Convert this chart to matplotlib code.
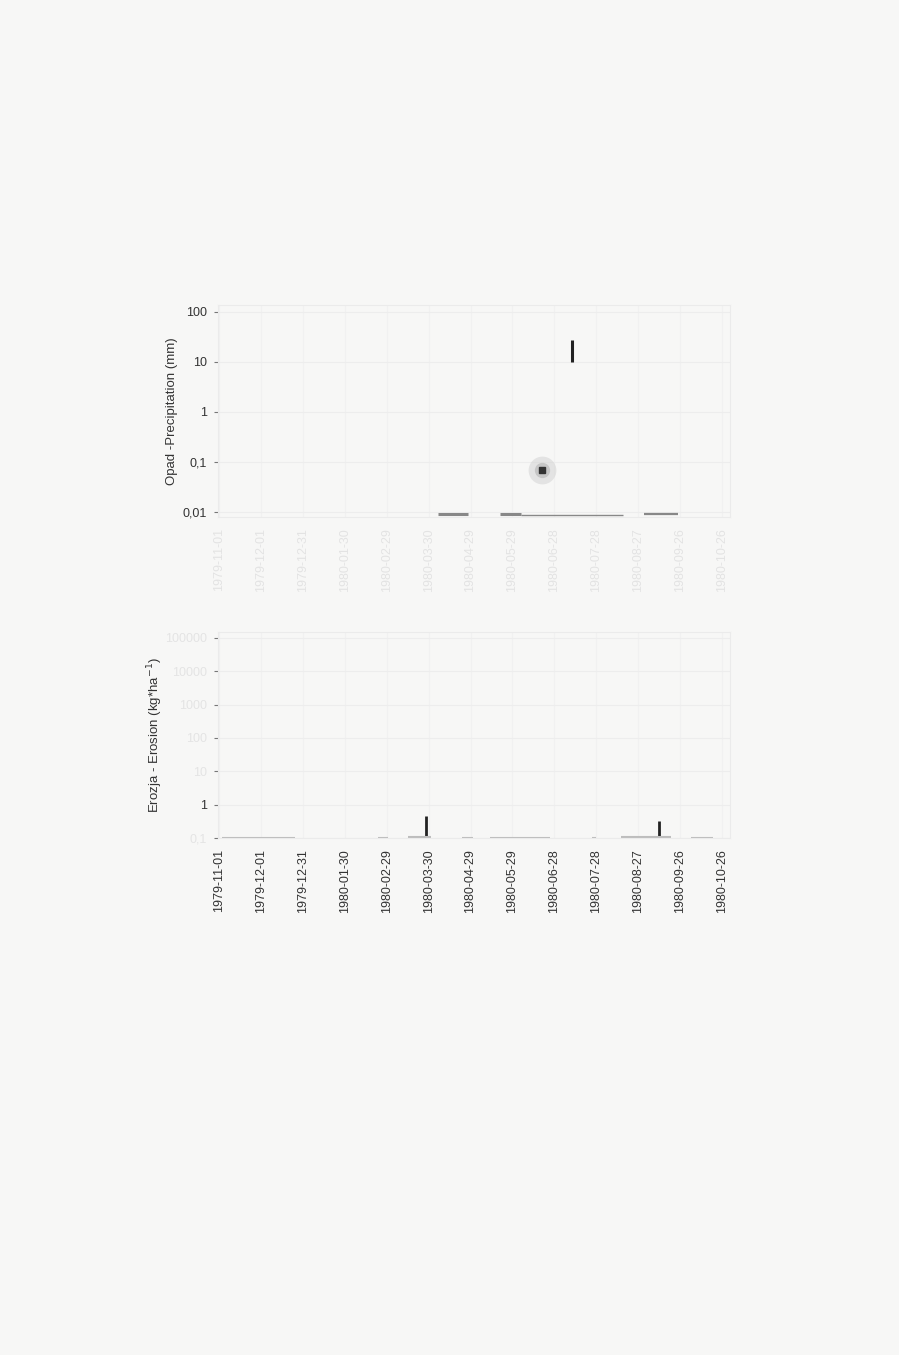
import matplotlib
matplotlib.use("Agg")
import matplotlib.pyplot as plt
import matplotlib.dates as mdates
import numpy as np
import datetime as dt

plt.rcParams['font.family'] = ['Liberation Sans', 'DejaVu Sans']

# ---- data ----
tick_dates = ["1979-11-01", "1979-12-01", "1979-12-31", "1980-01-30", "1980-02-29",
              "1980-03-30", "1980-04-29", "1980-05-29", "1980-06-28", "1980-07-28",
              "1980-08-27", "1980-09-26", "1980-10-26"]

# precipitation: visible dark bar (low end of the visible part, value)
precip_bar_dates = ["1980-07-11"]
precip_bar_low = [10.0]
precip_bar_values = [27.0]
# isolated point
precip_point_dates = ["1980-06-19"]
precip_point_values = [0.069]
# near-zero precipitation periods (start, end, value)
precip_low_start = ["1980-04-06", "1980-05-20", "1980-06-04", "1980-08-31"]
precip_low_end = ["1980-04-27", "1980-06-04", "1980-08-16", "1980-09-25"]
precip_low_value = [0.0092, 0.0092, 0.0088, 0.0089]
precip_low_weight = [2.2, 2.2, 1.0, 1.6]

# erosion bars
erosion_dates = ["1980-03-28", "1980-09-11"]
erosion_values = [0.46, 0.33]
# near-zero erosion periods
erosion_low_start = ["1979-11-03", "1980-02-23", "1980-03-15", "1980-04-23", "1980-05-13",
                     "1980-07-25", "1980-08-15", "1980-10-04"]
erosion_low_end = ["1979-12-25", "1980-03-01", "1980-04-01", "1980-05-01", "1980-06-25",
                   "1980-07-28", "1980-09-20", "1980-10-20"]
erosion_low_value = [0.102, 0.102, 0.104, 0.102, 0.102, 0.102, 0.104, 0.102]

top_yticks = [0.01, 0.1, 1, 10, 100]
top_yticklabels = ["0,01", "0,1", "1", "10", "100"]
bot_yticks = [0.1, 1, 10, 100, 1000, 10000, 100000]
bot_yticklabels = ["0,1", "1", "10", "100", "1000", "10000", "100000"]


def d(s):
    return dt.datetime.strptime(s, "%Y-%m-%d")


W, H = 899, 1355
bg = '#f7f7f6'
fig = plt.figure(figsize=(W / 100, H / 100), dpi=100, facecolor=bg)

left = 218 / W
width = 512 / W
ax1 = fig.add_axes([left, 1 - 517 / H, width, 212 / H], facecolor=bg)
ax2 = fig.add_axes([left, 1 - 838 / H, width, 206 / H], facecolor=bg)

xmin, xmax = d("1979-10-31"), d("1980-11-01")
ticks = [d(s) for s in tick_dates]

for ax in (ax1, ax2):
    ax.set_yscale('log')
    ax.set_xlim(xmin, xmax)
    ax.set_xticks(ticks)
    for s in ax.spines.values():
        s.set_color('#ebebeb')
        s.set_linewidth(0.8)
    ax.grid(True, which='major', axis='y', color='#ededed', lw=0.8)
    ax.grid(True, which='major', axis='x', color='#f1f1f1', lw=0.8)
    ax.minorticks_off()
    ax.tick_params(axis='y', which='major', length=3, color='#777777', labelsize=9,
                   labelcolor='#333333', pad=5)
    ax.tick_params(axis='x', length=0, pad=8, labelsize=9)

# ---- top panel ----
ax1.set_ylim(0.0079, 138)
ax1.set_yticks(top_yticks)
ax1.set_yticklabels(top_yticklabels)
ax1.set_xticklabels(tick_dates, rotation=90, color='#e3e3e3')
ax1.vlines([d(s) for s in precip_bar_dates], precip_bar_low, precip_bar_values,
           color='#222222', lw=2.2)
pd_ = [d(s) for s in precip_point_dates]
ax1.plot(pd_, precip_point_values, 'o', ms=20, color='#cccccc', alpha=0.45, mec='none')
ax1.plot(pd_, precip_point_values, 'o', ms=11, color='#aaaaaa', alpha=0.5, mec='none')
ax1.plot(pd_, precip_point_values, 's', ms=4, color='#333333')
for s, e, v, w in zip(precip_low_start, precip_low_end, precip_low_value, precip_low_weight):
    ax1.hlines(v, d(s), d(e), color='#888888', lw=w)
ax1.set_ylabel("Opad -Precipitation (mm)", fontsize=9.5, color='#333333')
ax1.yaxis.set_label_coords(-0.079, 0.5)

# ---- bottom panel ----
ax2.set_ylim(0.1, 150000)
ax2.set_yticks(bot_yticks)
ax2.set_yticklabels(bot_yticklabels)
for lab, t in zip(ax2.get_yticklabels(), bot_yticklabels):
    lab.set_color('#333333' if t == "1" else '#e4e4e4')
ax2.set_xticklabels(tick_dates, rotation=90, color='#333333')
ax2.vlines([d(s) for s in erosion_dates], 0.1, erosion_values, color='#222222', lw=2.0)
for s, e, v in zip(erosion_low_start, erosion_low_end, erosion_low_value):
    ax2.hlines(v, d(s), d(e), color='#bdbdbd', lw=1.5)
ax2.set_ylabel("Erozja - Erosion (kg*ha$^{-1}$)", fontsize=9.5, color='#333333')
ax2.yaxis.set_label_coords(-0.103, 0.5)

fig.savefig("out.png", dpi=100, facecolor=bg)
